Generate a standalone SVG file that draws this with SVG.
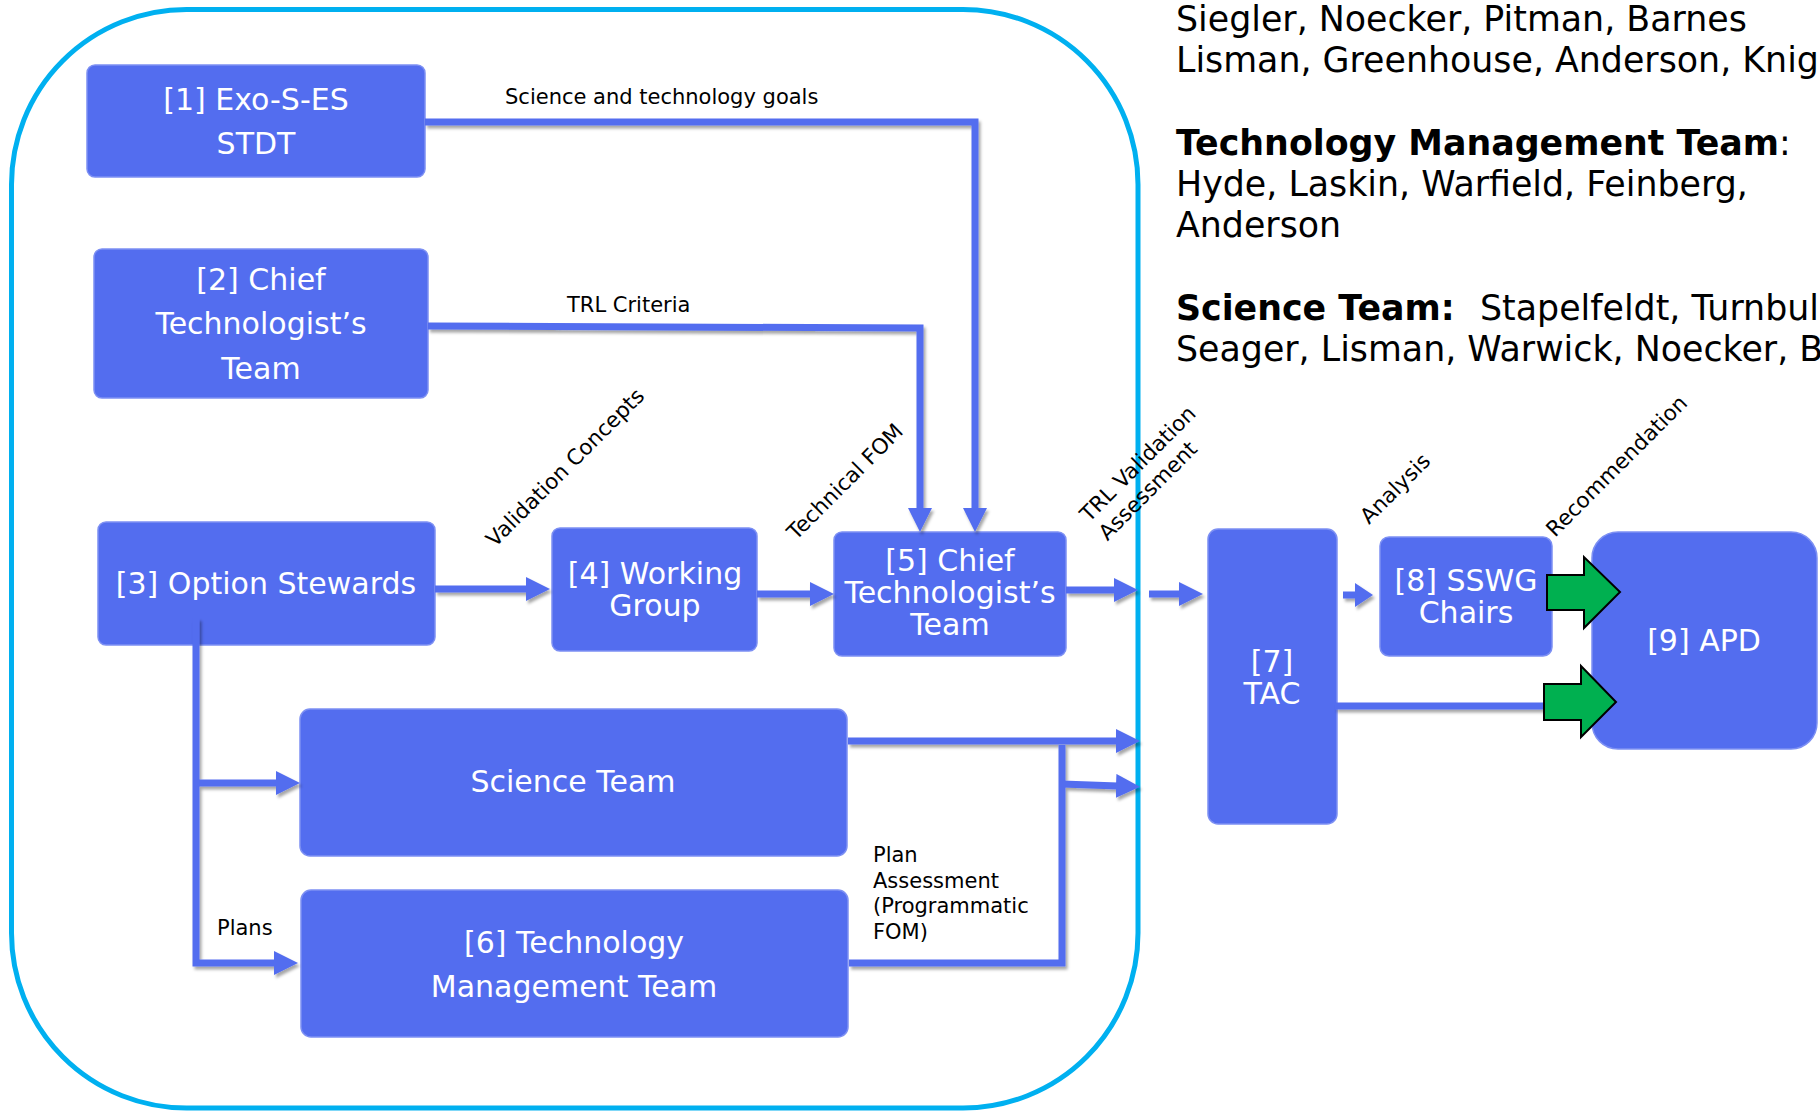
<svg xmlns="http://www.w3.org/2000/svg" width="1820" height="1111" viewBox="0 0 1820 1111">
<defs>
<style>
.box{fill:#536DEF;stroke:#7D90F3;stroke-width:1.5}
.bt{font-family:"DejaVu Sans","Verdana",sans-serif;font-size:30px;fill:#FFFFFF;text-anchor:middle}
.lbl{font-family:"DejaVu Sans","Verdana",sans-serif;font-size:21px;fill:#000000}
.rl{font-size:21.5px}
.side{font-family:"DejaVu Sans","Verdana",sans-serif;font-size:34.8px;fill:#000000}
.b{font-weight:bold}
.ln{fill:none;stroke:#536DEF;stroke-width:7;stroke-linejoin:miter}
.arr{marker-end:url(#ah)}
.green{fill:#00B050;stroke:#000000;stroke-width:2;stroke-linejoin:miter}
</style>
<marker id="ah" markerUnits="userSpaceOnUse" viewBox="0 0 24 24" markerWidth="24" markerHeight="24" refX="2" refY="12" orient="auto">
<path d="M0,0 L24,12 L0,24 z" fill="#536DEF"/>
</marker>
<marker id="ahs" markerUnits="userSpaceOnUse" viewBox="0 0 18 24" markerWidth="18" markerHeight="24" refX="2" refY="12" orient="auto">
<path d="M0,0 L18,12 L0,24 z" fill="#536DEF"/>
</marker>
<filter id="sh" x="-5%" y="-5%" width="110%" height="110%">
<feDropShadow dx="2" dy="3" stdDeviation="1.5" flood-color="#000000" flood-opacity="0.35"/>
</filter>
</defs>
<rect x="0" y="0" width="1820" height="1111" fill="#FFFFFF"/>

<rect id="container" x="11.5" y="9.5" width="1126.5" height="1098.5" rx="175" ry="175" fill="none" stroke="#00B0F0" stroke-width="5"/>

<g id="team-lists">
<text class="side" x="1176" y="31">Siegler, Noecker, Pitman, Barnes</text>
<text class="side" x="1176" y="72">Lisman, Greenhouse, Anderson, Knig</text>
<text class="side" x="1176" y="155"><tspan class="b">Technology Management Team</tspan>:</text>
<text class="side" x="1176" y="196">Hyde, Laskin, Warfield, Feinberg,</text>
<text class="side" x="1176" y="237">Anderson</text>
<text class="side" x="1176" y="320"><tspan class="b">Science Team:</tspan><tspan x="1480">Stapelfeldt, Turnbul</tspan></text>
<text class="side" x="1176" y="361">Seager, Lisman, Warwick, Noecker, B</text>
</g>

<g id="n1">
<rect class="box" x="87" y="65" width="338" height="112" rx="8"/>
<text class="bt" x="256" y="110">[1] Exo-S-ES</text>
<text class="bt" x="256" y="154">STDT</text>
</g>
<g id="n2">
<rect class="box" x="94" y="249" width="334" height="149" rx="8"/>
<text class="bt" x="261" y="290">[2] Chief</text>
<text class="bt" x="261" y="334">Technologist’s</text>
<text class="bt" x="261" y="379">Team</text>
</g>
<g id="n3">
<rect class="box" x="98" y="522" width="337" height="123" rx="8"/>
<text class="bt" x="266" y="594">[3] Option Stewards</text>
</g>
<g id="n4">
<rect class="box" x="552" y="528" width="205" height="123" rx="8"/>
<text class="bt" x="655" y="584">[4] Working</text>
<text class="bt" x="655" y="616">Group</text>
</g>
<g id="n5">
<rect class="box" x="834" y="532" width="232" height="124" rx="8"/>
<text class="bt" x="950" y="571">[5] Chief</text>
<text class="bt" x="950" y="603">Technologist’s</text>
<text class="bt" x="950" y="635">Team</text>
</g>
<g id="science-team">
<rect class="box" x="300" y="709" width="547" height="147" rx="10"/>
<text class="bt" x="573" y="792">Science Team</text>
</g>
<g id="n6">
<rect class="box" x="301" y="890" width="547" height="147" rx="10"/>
<text class="bt" x="574" y="953">[6] Technology</text>
<text class="bt" x="574" y="997">Management Team</text>
</g>
<g id="n7">
<rect class="box" x="1208" y="529" width="129" height="295" rx="10"/>
<text class="bt" x="1272" y="672">[7]</text>
<text class="bt" x="1272" y="704">TAC</text>
</g>
<g id="n8">
<rect class="box" x="1380" y="537" width="172" height="119" rx="9"/>
<text class="bt" x="1466" y="591">[8] SSWG</text>
<text class="bt" x="1466" y="623">Chairs</text>
</g>
<g id="n9">
<rect class="box" x="1592" y="532" width="225" height="217" rx="26"/>
<text class="bt" x="1704" y="651">[9] APD</text>
</g>

<g id="connectors">
<g filter="url(#sh)">
<path class="ln arr" d="M425,122 H975 V510"/>
<path class="ln arr" d="M428,326 L920,328 V510"/>
<path class="ln arr" d="M435,589 H528"/>
<path class="ln arr" d="M757,594 H812"/>
<path class="ln arr" d="M1066,590 H1116"/>
<path class="ln arr" d="M1149,594 H1181"/>
<path class="ln" d="M1343,595 H1357" marker-end="url(#ahs)"/>
<path class="ln arr" d="M196,618 V963 H276"/>
<path class="ln arr" d="M196,783 H278"/>
<path class="ln arr" d="M848,741 H1118"/>
<path class="ln" d="M849,963 H1062 V745"/>
<path class="ln arr" d="M1062,784 L1118,786"/>
<path class="ln" d="M1335,706 H1548"/>
</g>
<polygon class="green" points="1547,575 1584,575 1584,557 1620,592 1584,628 1584,610 1547,610"/>
<polygon class="green" points="1544,684 1581,684 1581,666 1616,702 1581,737 1581,720 1544,720"/>
</g>

<g id="labels">
<text class="lbl" x="505" y="104">Science and technology goals</text>
<text class="lbl" x="567" y="312">TRL Criteria</text>
<text class="lbl rl" transform="translate(495,548) rotate(-45)">Validation Concepts</text>
<text class="lbl rl" transform="translate(796,541) rotate(-45)">Technical FOM</text>
<text class="lbl rl" transform="translate(1089,523) rotate(-45)">TRL Validation<tspan x="0" y="26">Assessment</tspan></text>
<text class="lbl rl" transform="translate(1369,525) rotate(-45)">Analysis</text>
<text class="lbl rl" transform="translate(1555,538) rotate(-45)">Recommendation</text>
<text class="lbl" x="217" y="935">Plans</text>
<text class="lbl" x="873" y="862">Plan</text>
<text class="lbl" x="873" y="888">Assessment</text>
<text class="lbl" x="873" y="913">(Programmatic</text>
<text class="lbl" x="873" y="939">FOM)</text>
</g>
</svg>
